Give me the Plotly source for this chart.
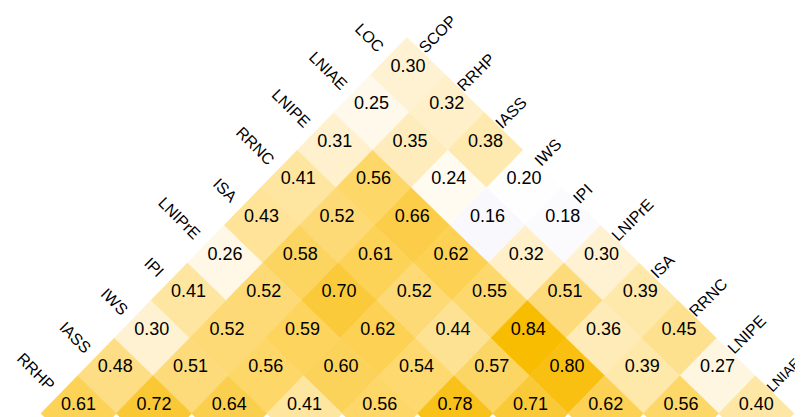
import plotly.graph_objects as go
from plotly.colors import sample_colorscale

# Left-edge variables (lines running down-right) and right-edge variables (lines running down-left)
row_vars = ["LOC", "LNIAE", "LNIPE", "RRNC", "ISA", "LNIPrE", "IPI", "IWS", "IASS", "RRHP"]
col_vars = ["SCOP", "RRHP", "IASS", "IWS", "IPI", "LNIPrE", "ISA", "RRNC", "LNIPE", "LNIAE"]

# Correlation values: row i (row_vars[i]) against col_vars[0..9-i]
r_LOC    = [0.30, 0.32, 0.38, 0.20, 0.18, 0.30, 0.39, 0.45, 0.27, 0.40]
r_LNIAE  = [0.25, 0.35, 0.24, 0.16, 0.32, 0.51, 0.36, 0.39, 0.56]
r_LNIPE  = [0.31, 0.56, 0.66, 0.62, 0.55, 0.84, 0.80, 0.62]
r_RRNC   = [0.41, 0.52, 0.61, 0.52, 0.44, 0.57, 0.71]
r_ISA    = [0.43, 0.58, 0.70, 0.62, 0.54, 0.78]
r_LNIPrE = [0.26, 0.52, 0.59, 0.60, 0.56]
r_IPI    = [0.41, 0.52, 0.56, 0.41]
r_IWS    = [0.30, 0.51, 0.64]
r_IASS   = [0.48, 0.72]
r_RRHP   = [0.61]
values = [r_LOC, r_LNIAE, r_LNIPE, r_RRNC, r_ISA, r_LNIPrE, r_IPI, r_IWS, r_IASS, r_RRHP]

# colour scale (value -> colour)
vmin, vmax = 0.16, 0.84
stops = [(0.16, "#F8F8FD"), (0.21, "#FFFFFF"), (0.30, "#FFF2D2"), (0.45, "#FEE18F"),
         (0.60, "#FCD35A"), (0.72, "#FAC835"), (0.84, "#F8BC00")]
colorscale = [[(v - vmin) / (vmax - vmin), c] for v, c in stops]

# geometry (pixel space)
W, H = 803, 417
OX, OY = 400.0, 67.0
UX, UY = -36.6, 37.6   # step along row index
VX, VY = 38.7, 37.6    # step along column index
TEXT_DY = -8.0
LABEL_SIZE = 16


def center(i, j):
    return OX + i * UX + j * VX, OY + i * UY + j * VY


fig = go.Figure()
tx, ty, tt = [], [], []
for i, row in enumerate(values):
    for j, val in enumerate(row):
        cx, cy = center(i, j)
        xs = [cx - (UX + VX) / 2, cx + (VX - UX) / 2, cx + (UX + VX) / 2, cx + (UX - VX) / 2]
        ys = [cy - (UY + VY) / 2, cy + (VY - UY) / 2, cy + (UY + VY) / 2, cy + (UY - VY) / 2]
        xs.append(xs[0]); ys.append(ys[0])
        col = sample_colorscale(colorscale, [(val - vmin) / (vmax - vmin)])[0]
        fig.add_trace(go.Scatter(x=xs, y=ys, mode="lines", fill="toself", fillcolor=col,
                                 line=dict(color=col, width=0.6), hoverinfo="skip"))
        tx.append(cx); ty.append(cy + TEXT_DY); tt.append(f"{val:.2f}")

FONT = "Liberation Sans, Arial, sans-serif"
fig.add_trace(go.Scatter(x=tx, y=ty, mode="text", text=tt, textposition="middle center",
                         textfont=dict(family=FONT, size=18, color="black"), hoverinfo="skip",
                         cliponaxis=False))


def est_extent(name, size):
    # rough width of a 45-degree rotated label's bounding box
    return (0.68 * size * len(name) + 1.3 * size) / 1.414


ann = []
for i, name in enumerate(row_vars):
    cx, cy = center(i, 0)
    ann.append(dict(x=cx - VX / 2 + 1, y=cy - VY / 2 + 2, text=name, showarrow=False, textangle=45,
                    xanchor="right", yanchor="bottom", font=dict(family=FONT, size=LABEL_SIZE, color="black")))
for j, name in enumerate(col_vars):
    cx, cy = center(0, j)
    ax = cx - UX / 2 - 14
    size = LABEL_SIZE
    while ax + est_extent(name, size) > W - 1 and size > 11:
        size -= 1
    ann.append(dict(x=ax, y=cy - UY / 2 + 3, text=name, showarrow=False, textangle=-45,
                    xanchor="left", yanchor="bottom", font=dict(family=FONT, size=size, color="black")))

fig.update_layout(width=W, height=H, margin=dict(l=0, r=0, t=0, b=0),
                  paper_bgcolor="white", plot_bgcolor="white", showlegend=False,
                  annotations=ann,
                  xaxis=dict(range=[0, W], visible=False, fixedrange=True),
                  yaxis=dict(range=[H, 0], visible=False, fixedrange=True))
fig.write_html("out.html")
